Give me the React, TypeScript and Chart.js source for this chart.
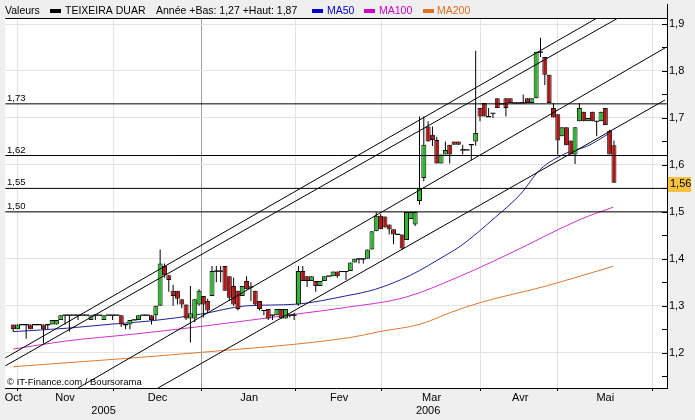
import React, { useEffect, useRef } from "react";
import { Chart, registerables } from "chart.js";
Chart.register(...registerables);

// ---- Candles (index = trading day, Oct 2005 -> May 2006) ----
const opens = [
  1.26,1.25,1.26,1.26,1.26,1.26,1.26,1.26,1.26,1.26,
  1.26,1.27,1.28,1.28,1.28,1.28,1.28,1.28,1.27,1.28,
  1.28,1.27,1.28,1.28,1.28,1.28,1.26,1.26,1.27,1.27,
  1.28,1.28,1.28,1.28,1.30,1.385,1.365,1.332,1.332,1.314,
  1.303,1.273,1.273,1.303,1.321,1.31,1.321,1.374,1.374,1.385,
  1.363,1.342,1.332,1.321,1.353,1.34,1.332,1.31,1.29,1.293,
  1.28,1.28,1.293,1.273,1.28,1.28,1.303,1.374,1.363,1.353,
  1.353,1.342,1.353,1.363,1.363,1.373,1.373,1.373,1.374,1.392,
  1.40,1.40,1.40,1.42,1.459,1.492,1.49,1.473,1.463,1.452,
  1.452,1.44,1.485,1.473,1.523,1.572,1.682,1.664,1.653,1.603,
  1.622,1.643,1.65,1.65,1.632,1.632,1.643,1.65,1.721,1.732,
  1.703,1.71,1.742,1.73,1.742,1.742,1.732,1.732,1.732,1.742,
  1.732,1.742,1.84,1.83,1.792,1.721,1.708,1.661,1.68,1.652,
  1.622,1.693,1.713,1.693,1.713,1.693,1.693,1.721,1.673,1.642,
];
const highs = [
  1.26,1.26,1.26,1.26,1.26,1.26,1.26,1.26,1.26,1.27,
  1.27,1.28,1.28,1.28,1.28,1.28,1.28,1.28,1.28,1.28,
  1.28,1.28,1.28,1.28,1.28,1.28,1.26,1.27,1.27,1.28,
  1.28,1.28,1.28,1.30,1.42,1.39,1.365,1.345,1.332,1.314,
  1.303,1.342,1.314,1.335,1.321,1.315,1.385,1.385,1.385,1.385,
  1.363,1.36,1.332,1.342,1.363,1.35,1.332,1.31,1.29,1.293,
  1.28,1.293,1.293,1.293,1.28,1.285,1.385,1.385,1.363,1.363,
  1.353,1.353,1.363,1.363,1.373,1.373,1.373,1.373,1.392,1.40,
  1.40,1.40,1.42,1.459,1.50,1.495,1.49,1.473,1.463,1.452,
  1.452,1.50,1.50,1.50,1.703,1.703,1.693,1.682,1.66,1.622,
  1.65,1.643,1.65,1.65,1.643,1.632,1.643,1.843,1.721,1.732,
  1.721,1.71,1.742,1.73,1.742,1.742,1.732,1.732,1.75,1.742,
  1.742,1.841,1.871,1.83,1.792,1.732,1.708,1.68,1.68,1.652,
  1.68,1.732,1.713,1.70,1.713,1.693,1.713,1.721,1.675,1.652,
];
const lows = [
  1.245,1.25,1.26,1.23,1.25,1.26,1.26,1.22,1.25,1.26,
  1.26,1.27,1.26,1.245,1.28,1.27,1.28,1.28,1.27,1.27,
  1.28,1.27,1.28,1.27,1.28,1.255,1.25,1.25,1.27,1.27,
  1.28,1.28,1.26,1.27,1.30,1.36,1.33,1.30,1.303,1.295,
  1.27,1.222,1.265,1.30,1.275,1.285,1.321,1.35,1.35,1.332,
  1.31,1.30,1.29,1.321,1.335,1.31,1.30,1.29,1.28,1.27,
  1.27,1.28,1.273,1.273,1.275,1.27,1.30,1.353,1.34,1.353,
  1.33,1.342,1.353,1.363,1.363,1.36,1.373,1.355,1.374,1.392,
  1.39,1.39,1.40,1.42,1.459,1.463,1.467,1.452,1.431,1.452,
  1.42,1.44,1.485,1.47,1.515,1.565,1.65,1.64,1.603,1.603,
  1.622,1.603,1.643,1.643,1.622,1.632,1.61,1.641,1.693,1.703,
  1.703,1.70,1.721,1.73,1.703,1.732,1.732,1.732,1.732,1.732,
  1.732,1.742,1.83,1.77,1.732,1.701,1.622,1.661,1.642,1.622,
  1.602,1.693,1.693,1.693,1.693,1.661,1.693,1.685,1.622,1.562,
];
const closes = [
  1.25,1.26,1.26,1.26,1.25,1.26,1.26,1.25,1.26,1.27,
  1.27,1.28,1.28,1.28,1.28,1.28,1.28,1.28,1.28,1.28,
  1.28,1.28,1.28,1.28,1.28,1.26,1.26,1.27,1.27,1.28,
  1.28,1.28,1.27,1.30,1.39,1.365,1.355,1.321,1.315,1.303,
  1.273,1.284,1.314,1.332,1.303,1.29,1.374,1.374,1.374,1.332,
  1.317,1.303,1.293,1.342,1.335,1.34,1.303,1.293,1.29,1.273,
  1.28,1.293,1.273,1.293,1.28,1.28,1.374,1.353,1.353,1.363,
  1.342,1.353,1.363,1.363,1.373,1.363,1.373,1.373,1.392,1.40,
  1.40,1.40,1.42,1.459,1.492,1.463,1.467,1.463,1.452,1.452,
  1.422,1.50,1.50,1.50,1.551,1.643,1.65,1.653,1.603,1.622,
  1.632,1.622,1.643,1.643,1.632,1.632,1.643,1.668,1.703,1.703,
  1.703,1.71,1.721,1.73,1.721,1.732,1.732,1.732,1.732,1.732,
  1.742,1.841,1.84,1.792,1.732,1.701,1.652,1.68,1.642,1.622,
  1.68,1.721,1.693,1.70,1.693,1.693,1.713,1.685,1.622,1.562,
];

// ---- Moving averages (sampled at day index) ----
const ma50Idx = [0, 12.6, 22.6, 31.9, 43.4, 53.8, 65.4, 76.9, 83.8, 91.9, 100.4, 103.5, 111.5, 117.3, 121.9, 128.1, 132.7, 138.1];
const ma50Val = [1.245, 1.2524, 1.2609, 1.2679, 1.2822, 1.2998, 1.3034, 1.321, 1.3352, 1.365, 1.4096, 1.4272, 1.4881, 1.537, 1.59, 1.6255, 1.6395, 1.668];
const ma100Idx = [0, 12.6, 27.9, 43.4, 65.4, 76.9, 90.8, 103.5, 114.5, 131.2, 138.8];
const ma100Val = [1.208, 1.2255, 1.2397, 1.256, 1.2822, 1.2964, 1.3183, 1.3635, 1.4096, 1.4839, 1.51];
const ma200Idx = [0, 43.4, 78.1, 85, 94.2, 101.2, 108.1, 123.1, 138.8];
const ma200Val = [1.1703, 1.2008, 1.2327, 1.2454, 1.2609, 1.2858, 1.307, 1.3416, 1.3841];

// ---- Trend lines (start/end in day index and price) ----
const trendX1 = [-1.85, -1.85, 15.0, 33.5];
const trendY1 = [1.189, 1.172, 1.125, 1.125];
const trendX2 = [135.1, 139.95, 150.8, 150.8];
const trendY2 = [1.9128, 1.9128, 1.849, 1.7382];

// ---- Horizontal levels ----
const levels = [1.73, 1.62, 1.55, 1.5];
const levelLabels = ["1,73", "1,62", "1,55", "1,50"];

// ---- Axes ----
const X_MIN = -1.85;
const X_MAX = 151.27;
const Y_MIN = 1.125;
const Y_MAX = 1.9128;
const yTicks = [1.15, 1.2, 1.25, 1.3, 1.35, 1.4, 1.45, 1.5, 1.55, 1.6, 1.65, 1.7, 1.75, 1.8, 1.85, 1.9];
const gridIdx = [0.92, 23.1, 43.6, 65.4, 85.2, 108.1, 125.9, 147.8];
const darkGridIndex = 2;
const monthIdx = [0, 12, 33.4, 54.6, 75.4, 96.8, 117.3, 137];
const monthLabels = ["Oct", "Nov", "Dec", "Jan", "Fev", "Mar", "Avr", "Mai"];
const yearIdx = [20.9, 96.0];
const yearLabels = ["2005", "2006"];
const lastValue = 1.56;
const lastLabel = "1,56";

// ---- Header legend ----
const headerTexts = ["Valeurs", "TEIXEIRA DUAR", "Année +Bas: 1,27 +Haut: 1,87", "MA50", "MA100", "MA200"];
const headerColors = ["#000000", "#000000", "#000000", "#0000cc", "#cc00cc", "#e07020"];
const headerSwatch = [null, "#000000", null, "#0000cc", "#cc00cc", "#e07020"];
const copyright = "© IT-Finance.com / Boursorama";

// layout (pixel) constants for the header
const HEADER_TEXT_X = [5, 65, 156, 327, 379, 437];
const HEADER_SWATCH_X = [0, 50, 0, 312, 364, 423];

const FONT = "'Liberation Sans', Arial, sans-serif";

const isMajor = (v: number) => Math.abs(v * 10 - Math.round(v * 10)) < 1e-6;

export default function App() {
  const ref = useRef<HTMLCanvasElement>(null);
  useEffect(() => {
    document.body.style.margin = "0";
    const canvas = ref.current!;
    Chart.defaults.font.family = FONT;
    Chart.defaults.font.size = 11;
    Chart.defaults.color = "#000";

    const idx = opens.map((_, i) => i);
    const wicks = idx.filter((i) => highs[i] > lows[i]).map((i) => ({ x: i, y: [lows[i], highs[i]] }));
    const ups = idx.filter((i) => closes[i] > opens[i]).map((i) => ({ x: i, y: [opens[i], closes[i]] }));
    const downs = idx.filter((i) => closes[i] < opens[i]).map((i) => ({ x: i, y: [closes[i], opens[i]] }));
    const dojis = idx.filter((i) => closes[i] === opens[i]).map((i) => ({ x: i, y: closes[i] }));

    const lineDs = (data: any[], color: string, order: number, extra: any = {}) => ({
      type: "line",
      data,
      borderColor: color,
      backgroundColor: color,
      borderWidth: 1,
      pointRadius: 0,
      fill: false,
      order,
      xAxisID: "x",
      yAxisID: "y",
      ...extra,
    });

    const barDs = (data: any[], fillColor: string, edge: string, thick: number, order: number) => ({
      type: "bar",
      data,
      backgroundColor: fillColor,
      borderColor: edge,
      borderWidth: thick > 1 ? 1 : 0,
      borderSkipped: false,
      grouped: true,
      stack: "candle",
      barThickness: thick,
      inflateAmount: 0,
      order,
      xAxisID: "x",
      yAxisID: "y",
    });

    const datasets: any[] = [
      barDs(wicks, "#000000", "#000000", 1, 3),
      barDs(ups, "#2fb82f", "#101010", 5, 2),
      barDs(downs, "#b41414", "#101010", 5, 2),
      {
        type: "line",
        data: dojis,
        showLine: false,
        pointStyle: "line",
        pointRadius: 2.5,
        pointBorderWidth: 1.2,
        pointBorderColor: "#000",
        borderColor: "#000",
        order: 1,
        xAxisID: "x",
        yAxisID: "y",
      },
      lineDs(ma200Idx.map((x, i) => ({ x, y: ma200Val[i] })), "#e07a30", 6, { cubicInterpolationMode: "monotone" }),
      lineDs(ma100Idx.map((x, i) => ({ x, y: ma100Val[i] })), "#cc33cc", 6, { cubicInterpolationMode: "monotone" }),
      lineDs(ma50Idx.map((x, i) => ({ x, y: ma50Val[i] })), "#22229a", 5, { cubicInterpolationMode: "monotone" }),
      ...trendX1.map((x1, k) =>
        lineDs([{ x: x1, y: trendY1[k] }, { x: trendX2[k], y: trendY2[k] }], "#000", 0)
      ),
      ...levels.map((lv) => lineDs([{ x: X_MIN, y: lv }, { x: X_MAX, y: lv }], "#000", 0)),
    ];

    const decor = {
      id: "decor",
      beforeDraw(chart: any) {
        const { ctx, chartArea: a, width, height } = chart;
        ctx.save();
        ctx.fillStyle = "#efefef";
        ctx.fillRect(0, 0, width, height);
        ctx.fillStyle = "#ffffff";
        ctx.fillRect(a.left, a.top, a.right - a.left, a.bottom - a.top);
        ctx.restore();
      },
      afterDraw(chart: any) {
        const { ctx, chartArea: a } = chart;
        const ys = chart.scales.y;
        ctx.save();
        ctx.strokeStyle = "#000";
        ctx.lineWidth = 1;
        ctx.beginPath();
        ctx.moveTo(a.left, Math.round(a.top) + 0.5);
        ctx.lineTo(a.right, Math.round(a.top) + 0.5);
        ctx.moveTo(Math.round(a.right) + 0.5, 4);
        ctx.lineTo(Math.round(a.right) + 0.5, a.top);
        ctx.stroke();
        ctx.beginPath();
        yTicks.forEach((v) => {
          const y = Math.round(ys.getPixelForValue(v)) + 0.5;
          ctx.moveTo(a.right - 5, y);
          ctx.lineTo(a.right, y);
        });
        ctx.stroke();
        // header legend
        ctx.font = `10.5px ${FONT}`;
        ctx.textBaseline = "middle";
        headerTexts.forEach((t, k) => {
          const sw = headerSwatch[k];
          if (sw) {
            ctx.fillStyle = sw;
            ctx.fillRect(HEADER_SWATCH_X[k], 9, 11, 4);
          }
          ctx.fillStyle = headerColors[k];
          ctx.fillText(t, HEADER_TEXT_X[k], 11);
        });
        // level labels
        ctx.font = `9.5px ${FONT}`;
        ctx.textBaseline = "alphabetic";
        ctx.fillStyle = "#000";
        levels.forEach((lv, k) => {
          const y = ys.getPixelForValue(lv);
          ctx.fillText(levelLabels[k], 7, y - 3);
        });
        ctx.font = `9.5px ${FONT}`;
        ctx.fillText(copyright, 7, a.bottom - 3);
        const yl = ys.getPixelForValue(lastValue);
        ctx.fillStyle = "#f6c240";
        ctx.fillRect(a.right + 1, Math.round(yl) - 7, 23, 15);
        ctx.fillStyle = "#000";
        ctx.font = `11px ${FONT}`;
        ctx.textBaseline = "middle";
        ctx.fillText(lastLabel, a.right + 3, yl + 0.5);
        ctx.restore();
      },
    };

    const chart = new Chart(canvas, {
      type: "line",
      data: { datasets },
      options: {
        responsive: false,
        animation: false,
        events: [],
        layout: { padding: { left: 4, top: 18, right: 0, bottom: 0 } },
        plugins: { legend: { display: false }, tooltip: { enabled: false } },
        scales: {
          x: {
            type: "linear",
            position: "bottom",
            weight: 0,
            min: X_MIN,
            max: X_MAX,
            offset: false,
            afterBuildTicks: (s: any) => {
              s.ticks = gridIdx.map((v) => ({ value: v }));
            },
            afterFit: (s: any) => {
              s.height = 3;
              s.paddingLeft = 0;
              s.paddingRight = 0;
            },
            ticks: { display: false },
            grid: {
              offset: false,
              color: (c: any) => (c.index === darkGridIndex ? "#a0a0a0" : "#e3e3e3"),
              drawTicks: true,
              tickLength: 3,
              tickColor: "#000",
            },
            border: { display: true, color: "#000", width: 1 },
          },
          xm: {
            type: "linear",
            position: "bottom",
            weight: 1,
            min: X_MIN,
            max: X_MAX,
            offset: false,
            afterBuildTicks: (s: any) => {
              s.ticks = [...monthIdx, ...yearIdx].map((v) => ({ value: v }));
            },
            afterFit: (s: any) => {
              s.height = 29;
              s.paddingLeft = 0;
              s.paddingRight = 0;
            },
            ticks: {
              autoSkip: false,
              maxRotation: 0,
              minRotation: 0,
              padding: 0,
              font: { size: 11 },
              callback: (_v: any, i: number) =>
                i < monthLabels.length ? monthLabels[i] : ["", yearLabels[i - monthLabels.length]],
            },
            grid: { display: false, drawTicks: false },
            border: { display: false },
          },
          y: {
            type: "linear",
            position: "right",
            stacked: false,
            min: Y_MIN,
            max: Y_MAX,
            afterBuildTicks: (s: any) => {
              s.ticks = yTicks.map((v) => ({ value: v }));
            },
            afterFit: (s: any) => {
              s.width = 28;
              s.paddingTop = 0;
              s.paddingBottom = 0;
            },
            ticks: {
              padding: 2,
              font: { size: 11 },
              callback: (v: any) => (isMajor(Number(v)) ? Number(v).toFixed(1).replace(".", ",") : ""),
            },
            grid: {
              color: (c: any) => (c.tick && isMajor(c.tick.value) ? "#e3e3e3" : "rgba(0,0,0,0)"),
              drawTicks: false,
            },
            border: { display: true, color: "#000", width: 1 },
          },
        },
      } as any,
      plugins: [decor],
    } as any);
    return () => chart.destroy();
  }, []);
  return (
    <div style={{ width: 695, height: 420 }}>
      <canvas ref={ref} width={695} height={420} style={{ display: "block" }} />
    </div>
  );
}
